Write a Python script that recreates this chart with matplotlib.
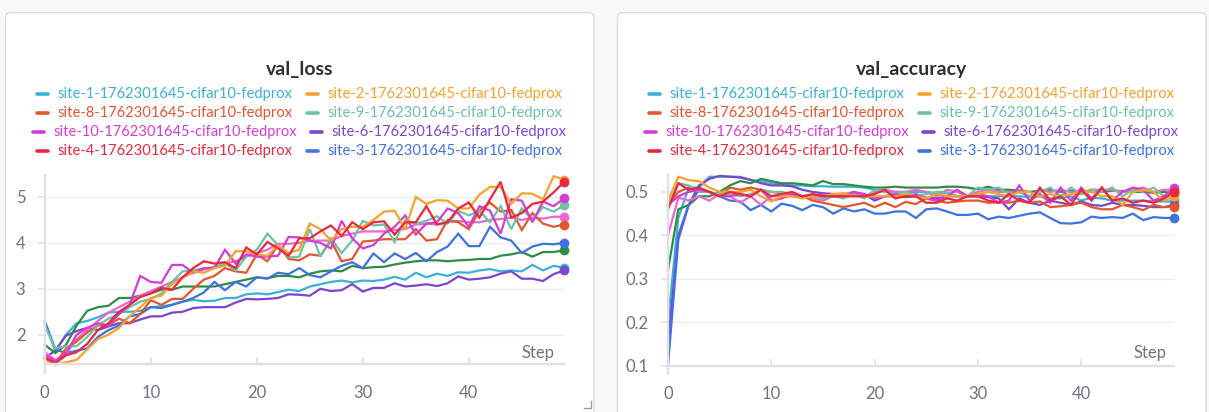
import matplotlib
import numpy as np

matplotlib.use("Agg")
import matplotlib.pyplot as plt
from matplotlib.lines import Line2D
from matplotlib.patches import FancyBboxPatch
from matplotlib.transforms import IdentityTransform


W, H = 1209, 412
plt.rcParams["font.family"] = ["Lato", "DejaVu Sans"]

STEPS = np.arange(50)

RUN_NAMES = {
    "site-1": "site-1-1762301645-cifar10-fedprox",
    "site-2": "site-2-1762301645-cifar10-fedprox",
    "site-8": "site-8-1762301645-cifar10-fedprox",
    "site-9": "site-9-1762301645-cifar10-fedprox",
    "site-10": "site-10-1762301645-cifar10-fedprox",
    "site-6": "site-6-1762301645-cifar10-fedprox",
    "site-4": "site-4-1762301645-cifar10-fedprox",
    "site-3": "site-3-1762301645-cifar10-fedprox",
}

# legend rows as shown in the panel header (two runs per row)
LEGEND_ROWS = [
    ("site-1", "site-2"),
    ("site-8", "site-9"),
    ("site-10", "site-6"),
    ("site-4", "site-3"),
]

COLORS = {
    "site-1": "#38b2d6",
    "site-2": "#f8a12b",
    "site-8": "#e4572e",
    "site-9": "#6cc2a6",
    "site-10": "#d63cd4",
    "site-6": "#7c45d0",
    "site-4": "#e8283e",
    "site-3": "#3d72e0",
    "site-5": "#2f8c46",
    "site-7": "#ee66d2",
}

DRAW_ORDER = ["site-1", "site-6", "site-5", "site-3", "site-7",
              "site-8", "site-9", "site-10", "site-2", "site-4"]

# val_loss per step
loss_site1 = [2.25, 1.65, 2.00, 2.25, 2.30, 2.38, 2.48, 2.50, 2.50, 2.52,
              2.60, 2.62, 2.65, 2.72, 2.76, 2.73, 2.74, 2.80, 2.80, 2.88,
              2.90, 2.88, 2.93, 2.98, 2.95, 3.05, 3.10, 3.15, 3.18, 3.14,
              3.18, 3.17, 3.20, 3.26, 3.20, 3.35, 3.25, 3.33, 3.28, 3.36,
              3.35, 3.40, 3.43, 3.38, 3.40, 3.38, 3.52, 3.40, 3.50, 3.46]
loss_site6 = [1.50, 1.65, 1.98, 2.08, 2.15, 2.10, 2.18, 2.25, 2.25, 2.33,
              2.40, 2.40, 2.48, 2.50, 2.58, 2.60, 2.60, 2.60, 2.70, 2.78,
              2.77, 2.78, 2.80, 2.88, 2.87, 2.85, 3.00, 2.95, 2.97, 3.10,
              2.94, 3.02, 3.02, 3.12, 3.05, 3.07, 3.10, 3.06, 3.12, 3.27,
              3.20, 3.22, 3.25, 3.33, 3.38, 3.22, 3.22, 3.17, 3.32, 3.40]
loss_site5 = [1.78, 1.60, 1.78, 2.20, 2.52, 2.60, 2.63, 2.80, 2.80, 2.85,
              2.90, 2.98, 2.98, 3.05, 3.05, 3.05, 3.05, 3.10, 3.15, 3.20,
              3.25, 3.23, 3.28, 3.28, 3.25, 3.33, 3.38, 3.40, 3.38, 3.50,
              3.45, 3.47, 3.48, 3.53, 3.57, 3.60, 3.62, 3.62, 3.60, 3.62,
              3.63, 3.65, 3.65, 3.72, 3.75, 3.80, 3.70, 3.80, 3.80, 3.84]
loss_site3 = [2.30, 1.68, 1.60, 1.65, 1.70, 1.95, 2.10, 2.20, 2.40, 2.45,
              2.60, 2.58, 2.65, 2.72, 2.80, 2.92, 3.15, 2.97, 3.15, 3.05,
              3.25, 3.22, 3.35, 3.32, 3.45, 3.30, 3.25, 3.38, 3.50, 3.58,
              3.45, 3.77, 3.58, 3.77, 3.65, 3.78, 3.60, 3.80, 3.92, 4.20,
              3.93, 3.93, 4.35, 4.12, 4.05, 3.78, 3.92, 3.98, 3.97, 4.00]
loss_site7 = [1.62, 1.45, 1.58, 1.90, 2.10, 2.30, 2.48, 2.60, 2.72, 2.85,
              2.95, 3.05, 3.15, 3.25, 3.35, 3.42, 3.48, 3.55, 3.60, 3.70,
              3.78, 3.85, 3.98, 3.98, 4.00, 4.05, 4.05, 4.05, 4.15, 4.20,
              4.25, 4.25, 4.25, 4.28, 4.30, 4.40, 4.42, 4.40, 4.45, 4.48,
              4.45, 4.45, 4.50, 4.52, 4.55, 4.50, 4.55, 4.53, 4.57, 4.57]
loss_site8 = [1.48, 1.38, 1.70, 1.85, 2.05, 2.20, 2.20, 2.35, 2.25, 2.45,
              2.75, 2.65, 2.78, 2.78, 3.00, 3.20, 3.28, 3.45, 3.38, 3.35,
              3.75, 3.60, 3.95, 3.65, 3.62, 3.75, 3.72, 4.05, 3.60, 3.65,
              4.03, 4.05, 4.08, 4.08, 4.08, 4.30, 4.05, 4.08, 4.50, 4.45,
              4.30, 4.70, 4.88, 4.68, 4.72, 4.28, 4.65, 4.42, 4.35, 4.40]
loss_site9 = [2.20, 1.70, 1.75, 1.75, 1.95, 2.20, 2.35, 2.45, 2.60, 2.72,
              2.78, 2.90, 3.15, 3.38, 3.40, 3.45, 3.45, 3.55, 3.40, 3.70,
              3.85, 4.20, 3.95, 3.68, 3.70, 4.30, 3.70, 4.10, 3.78, 4.05,
              4.48, 4.38, 4.40, 4.02, 4.50, 4.42, 4.48, 4.58, 4.42, 4.70,
              4.60, 4.70, 4.45, 4.80, 4.30, 4.75, 4.50, 4.78, 4.68, 4.82]
loss_site10 = [1.55, 1.42, 1.60, 2.00, 2.15, 2.25, 2.20, 2.45, 2.65, 3.28,
               3.15, 3.13, 3.52, 3.52, 3.35, 3.45, 3.45, 3.85, 3.55, 3.75,
               3.70, 3.70, 3.72, 4.13, 4.12, 4.05, 4.00, 3.88, 4.48, 4.10,
               3.88, 3.95, 4.20, 4.35, 4.60, 4.18, 4.42, 4.45, 4.75, 4.65,
               4.35, 4.80, 4.70, 4.20, 4.95, 4.92, 4.45, 4.90, 4.80, 4.97]
loss_site2 = [1.45, 1.35, 1.40, 1.45, 1.68, 1.90, 2.00, 2.15, 2.40, 2.60,
              2.80, 2.85, 3.10, 3.25, 3.38, 3.35, 3.45, 3.50, 3.82, 3.82,
              3.75, 3.72, 3.95, 3.78, 3.85, 4.42, 4.30, 4.05, 4.30, 4.35,
              4.35, 4.50, 4.68, 4.70, 4.30, 5.00, 4.85, 4.93, 4.92, 4.75,
              4.75, 5.05, 5.22, 5.22, 4.85, 5.08, 5.07, 4.95, 5.45, 5.38]
loss_site4 = [1.50, 1.38, 1.55, 1.62, 1.80, 2.10, 2.25, 2.50, 2.65, 2.82,
              2.90, 3.02, 2.98, 3.25, 3.45, 3.60, 3.55, 3.58, 3.45, 3.90,
              3.75, 4.02, 3.88, 3.72, 4.10, 4.10, 4.25, 4.38, 4.15, 4.45,
              4.30, 4.45, 4.47, 4.18, 4.45, 4.45, 4.80, 4.40, 4.45, 4.75,
              4.88, 4.55, 4.95, 5.33, 4.55, 4.65, 4.85, 4.90, 5.10, 5.33]

# val_accuracy per step
acc_site1 = [0.200, 0.440, 0.510, 0.510, 0.535, 0.535, 0.535, 0.535, 0.527, 0.525,
             0.520, 0.517, 0.515, 0.515, 0.513, 0.513, 0.512, 0.512, 0.512, 0.510,
             0.505, 0.503, 0.500, 0.500, 0.500, 0.500, 0.497, 0.497, 0.490, 0.490,
             0.490, 0.490, 0.490, 0.490, 0.490, 0.488, 0.490, 0.485, 0.485, 0.490,
             0.480, 0.487, 0.485, 0.480, 0.480, 0.480, 0.480, 0.478, 0.478, 0.478]
acc_site6 = [0.150, 0.400, 0.470, 0.515, 0.530, 0.537, 0.535, 0.533, 0.528, 0.520,
             0.515, 0.515, 0.513, 0.505, 0.500, 0.497, 0.495, 0.495, 0.496, 0.495,
             0.480, 0.490, 0.490, 0.488, 0.490, 0.487, 0.485, 0.490, 0.490, 0.490,
             0.490, 0.488, 0.485, 0.460, 0.485, 0.475, 0.470, 0.480, 0.475, 0.470,
             0.478, 0.470, 0.468, 0.475, 0.470, 0.470, 0.468, 0.465, 0.465, 0.470]
acc_site5 = [0.320, 0.460, 0.470, 0.490, 0.490, 0.500, 0.515, 0.525, 0.520, 0.530,
             0.525, 0.520, 0.520, 0.518, 0.515, 0.525, 0.518, 0.518, 0.515, 0.512,
             0.510, 0.510, 0.512, 0.510, 0.510, 0.510, 0.510, 0.512, 0.512, 0.510,
             0.506, 0.512, 0.505, 0.505, 0.503, 0.500, 0.503, 0.505, 0.500, 0.503,
             0.498, 0.505, 0.500, 0.503, 0.502, 0.500, 0.500, 0.498, 0.500, 0.497]
acc_site3 = [0.100, 0.390, 0.470, 0.505, 0.500, 0.490, 0.480, 0.478, 0.458, 0.470,
             0.455, 0.473, 0.468, 0.458, 0.470, 0.465, 0.450, 0.462, 0.455, 0.460,
             0.450, 0.450, 0.455, 0.455, 0.440, 0.460, 0.462, 0.455, 0.447, 0.447,
             0.450, 0.437, 0.443, 0.440, 0.445, 0.450, 0.453, 0.440, 0.428, 0.427,
             0.430, 0.443, 0.440, 0.442, 0.440, 0.450, 0.435, 0.442, 0.440, 0.440]
acc_site7 = [0.400, 0.487, 0.480, 0.490, 0.480, 0.495, 0.490, 0.475, 0.490, 0.470,
             0.490, 0.490, 0.490, 0.490, 0.485, 0.480, 0.490, 0.495, 0.500, 0.490,
             0.500, 0.505, 0.500, 0.500, 0.505, 0.500, 0.490, 0.505, 0.500, 0.490,
             0.500, 0.505, 0.500, 0.500, 0.500, 0.490, 0.505, 0.500, 0.505, 0.500,
             0.495, 0.505, 0.505, 0.505, 0.500, 0.505, 0.510, 0.500, 0.505, 0.505]
acc_site8 = [0.470, 0.500, 0.510, 0.505, 0.500, 0.490, 0.510, 0.505, 0.510, 0.505,
             0.500, 0.497, 0.495, 0.490, 0.480, 0.475, 0.470, 0.465, 0.470, 0.475,
             0.465, 0.475, 0.465, 0.477, 0.472, 0.485, 0.480, 0.475, 0.478, 0.480,
             0.480, 0.475, 0.476, 0.475, 0.480, 0.475, 0.478, 0.465, 0.467, 0.470,
             0.475, 0.465, 0.460, 0.460, 0.470, 0.465, 0.458, 0.470, 0.465, 0.466]
acc_site9 = [0.470, 0.520, 0.515, 0.500, 0.500, 0.495, 0.495, 0.490, 0.495, 0.505,
             0.500, 0.500, 0.495, 0.490, 0.490, 0.485, 0.490, 0.485, 0.495, 0.485,
             0.505, 0.500, 0.495, 0.500, 0.490, 0.495, 0.500, 0.500, 0.490, 0.490,
             0.510, 0.505, 0.510, 0.495, 0.500, 0.490, 0.500, 0.510, 0.490, 0.510,
             0.495, 0.505, 0.500, 0.510, 0.490, 0.505, 0.500, 0.510, 0.490, 0.490]
acc_site10 = [0.470, 0.490, 0.500, 0.505, 0.500, 0.490, 0.490, 0.495, 0.490, 0.505,
              0.480, 0.485, 0.495, 0.490, 0.490, 0.495, 0.490, 0.490, 0.500, 0.495,
              0.485, 0.490, 0.495, 0.490, 0.495, 0.485, 0.480, 0.490, 0.505, 0.490,
              0.495, 0.490, 0.475, 0.480, 0.515, 0.480, 0.495, 0.475, 0.510, 0.480,
              0.510, 0.485, 0.510, 0.480, 0.500, 0.510, 0.505, 0.480, 0.490, 0.508]
acc_site2 = [0.480, 0.535, 0.527, 0.525, 0.510, 0.500, 0.500, 0.500, 0.505, 0.490,
             0.478, 0.490, 0.490, 0.485, 0.490, 0.490, 0.495, 0.497, 0.490, 0.490,
             0.490, 0.490, 0.490, 0.495, 0.490, 0.485, 0.495, 0.490, 0.490, 0.490,
             0.495, 0.500, 0.495, 0.490, 0.500, 0.500, 0.490, 0.495, 0.490, 0.495,
             0.500, 0.500, 0.490, 0.490, 0.470, 0.500, 0.505, 0.500, 0.480, 0.490]
acc_site4 = [0.460, 0.520, 0.505, 0.510, 0.500, 0.490, 0.500, 0.495, 0.490, 0.505,
             0.490, 0.495, 0.500, 0.490, 0.495, 0.490, 0.490, 0.490, 0.490, 0.490,
             0.495, 0.505, 0.485, 0.490, 0.490, 0.475, 0.475, 0.485, 0.480, 0.490,
             0.490, 0.480, 0.475, 0.495, 0.480, 0.475, 0.510, 0.480, 0.490, 0.470,
             0.505, 0.480, 0.510, 0.480, 0.485, 0.475, 0.480, 0.475, 0.485, 0.500]

LOSS = {"site-1": loss_site1, "site-6": loss_site6, "site-5": loss_site5,
        "site-3": loss_site3, "site-7": loss_site7, "site-8": loss_site8,
        "site-9": loss_site9, "site-10": loss_site10, "site-2": loss_site2,
        "site-4": loss_site4}
ACC = {"site-1": acc_site1, "site-6": acc_site6, "site-5": acc_site5,
       "site-3": acc_site3, "site-7": acc_site7, "site-8": acc_site8,
       "site-9": acc_site9, "site-10": acc_site10, "site-2": acc_site2,
       "site-4": acc_site4}

AXIS_GREY = "#e0e0e5"
GRID_GREY = "#ececef"
LABEL_GREY = "#72727c"


def fx(x):
    return x / W


def fy(y):
    return 1 - y / H


def add_card(fig, x0, x1, top):
    card = FancyBboxPatch((x0, -20), x1 - x0, (H - top) + 20,
                          boxstyle="round,pad=0,rounding_size=5",
                          transform=IdentityTransform(), facecolor="white",
                          edgecolor="#dcdce0", linewidth=1.0, zorder=-5)
    fig.add_artist(card)


def style_axes(ax, yticks):
    ax.set_facecolor("none")
    for side in ["top", "right"]:
        ax.spines[side].set_visible(False)
    for side in ["left", "bottom"]:
        ax.spines[side].set_color(AXIS_GREY)
        ax.spines[side].set_linewidth(1.7)
    ax.set_xlim(0, 49)
    ax.set_xticks([0, 10, 20, 30, 40])
    ax.set_yticks(yticks)
    ax.grid(axis="y", color=GRID_GREY, linewidth=0.9)
    ax.set_axisbelow(True)
    ax.tick_params(axis="y", direction="out", length=5, width=1.1,
                   color=AXIS_GREY, labelcolor=LABEL_GREY, labelsize=12, pad=9)
    ax.tick_params(axis="x", direction="in", length=5, width=1.2,
                   color=AXIS_GREY, labelcolor=LABEL_GREY, labelsize=12, pad=15)


def plot_runs(ax, data):
    for run in DRAW_ORDER:
        vals = data[run]
        ax.plot(STEPS, vals, color=COLORS[run], linewidth=1.6,
                solid_joinstyle="miter", clip_on=False)
        ax.plot(STEPS[-1], vals[-1], "o", color=COLORS[run], markersize=6,
                clip_on=False, zorder=5)


def draw_legend(fig, renderer, center_x):
    row_y = [94, 113, 132, 151]
    handle_w, handle_gap, col_gap = 11, 9.5, 14
    for y, pair in zip(row_y, LEGEND_ROWS):
        texts = []
        for run in pair:
            t = fig.text(0, fy(y), RUN_NAMES[run], color=COLORS[run],
                         fontsize=10.6, va="center", ha="left")
            texts.append(t)
        widths = [t.get_window_extent(renderer).width for t in texts]
        total = 2 * (handle_w + handle_gap) + sum(widths) + col_gap
        x = center_x - total / 2
        for run, t, w in zip(pair, texts, widths):
            fig.add_artist(Line2D([fx(x), fx(x + handle_w)], [fy(y), fy(y)],
                                  transform=fig.transFigure, color=COLORS[run],
                                  linewidth=2.6, solid_capstyle="round"))
            x += handle_w + handle_gap
            t.set_x(fx(x))
            x += w + col_gap


fig = plt.figure(figsize=(W / 100, H / 100), dpi=100)
fig.patch.set_facecolor("#f8f8f9")
renderer = fig.canvas.get_renderer()

add_card(fig, 5.5, 594, 12.7)
add_card(fig, 617.5, 1206, 12.7)

# loss panel
ax1 = fig.add_axes([fx(44.8), fy(364), fx(564.2) - fx(44.8), (364 - 175) / H])
style_axes(ax1, [2, 3, 4, 5])
ax1.set_ylim(1.362, 5.479)
plot_runs(ax1, LOSS)
ax1.spines["left"].set_bounds(1.17, 5.479)

# accuracy panel
ax2 = fig.add_axes([fx(668), fy(365.5), fx(1174.2) - fx(668), (365.5 - 175) / H])
style_axes(ax2, [0.1, 0.2, 0.3, 0.4, 0.5])
ax2.set_ylim(0.1, 0.539)
plot_runs(ax2, ACC)
ax2.spines["left"].set_bounds(0.08, 0.539)

for ax, title, cx, step_x in [(ax1, "val_loss", 299.6, 555),
                              (ax2, "val_accuracy", 911.8, 1166)]:
    fig.text(fx(cx), fy(69), title, ha="center", va="center",
             fontsize=14, fontweight="bold", color="#2e2e34")
    fig.text(fx(step_x), fy(353), "Step", ha="right", va="center",
             fontsize=12, color=LABEL_GREY)
    draw_legend(fig, renderer, cx)

# resize grip in the corner of the first card
fig.add_artist(Line2D([fx(584), fx(591), fx(591)], [fy(408), fy(408), fy(401)],
                      transform=fig.transFigure, color="#9a9aa0", linewidth=1.0))

fig.savefig("out.png", dpi=100, facecolor=fig.get_facecolor())
